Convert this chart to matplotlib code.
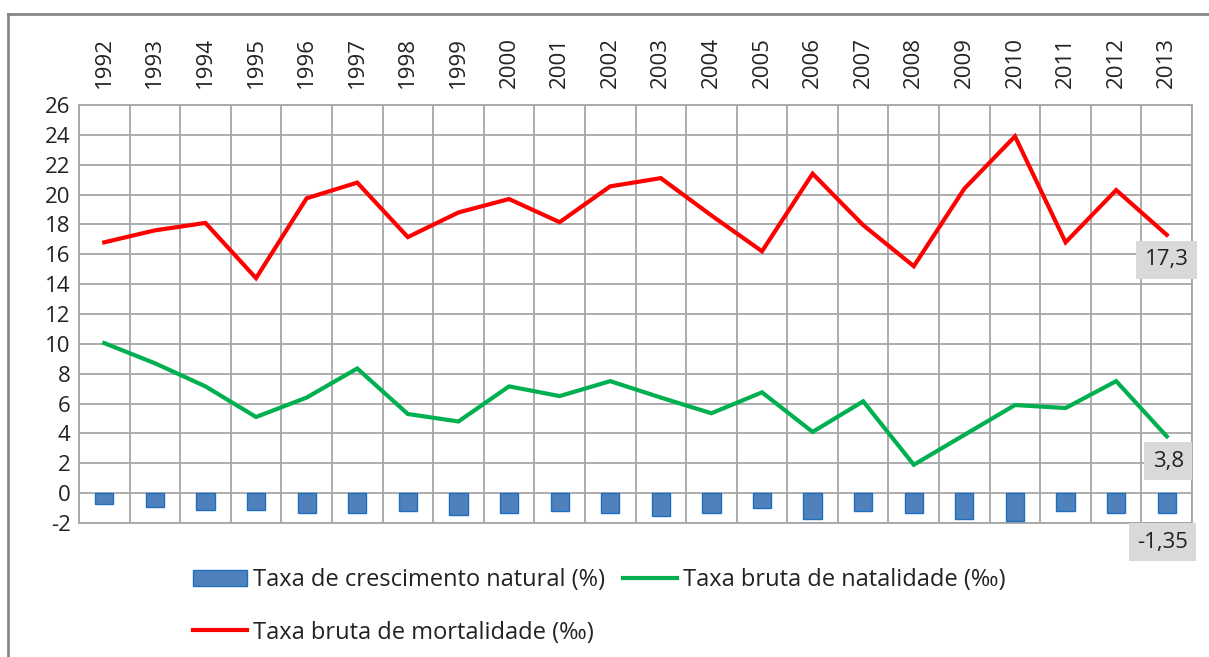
import matplotlib.pyplot as plt
import numpy as np
from matplotlib.lines import Line2D
from matplotlib.patches import Patch

plt.rcParams['font.family'] = ['Open Sans', 'DejaVu Sans']

years = [str(y) for y in range(1992, 2014)]
crescimento = [-0.7, -0.9, -1.1, -1.1, -1.35, -1.3, -1.2, -1.45, -1.3, -1.2, -1.35,
               -1.5, -1.35, -1.0, -1.75, -1.2, -1.35, -1.75, -1.85, -1.2, -1.3, -1.35]
natalidade = [10.05, 8.7, 7.15, 5.1, 6.4, 8.35, 5.3, 4.8, 7.15, 6.5, 7.5,
              6.4, 5.35, 6.75, 4.1, 6.15, 1.9, 3.9, 5.9, 5.7, 7.5, 3.8]
mortalidade = [16.8, 17.6, 18.1, 14.4, 19.75, 20.8, 17.15, 18.8, 19.7, 18.15, 20.55,
               21.1, 18.6, 16.2, 21.4, 17.95, 15.2, 20.4, 23.9, 16.8, 20.3, 17.3]
yticks = list(range(-2, 27, 2))

grid_c = '#A6A6A6'
txt_c = '#222222'
fs = 16
fig = plt.figure(figsize=(12.09, 6.57), dpi=100)
ax = fig.add_axes([0.0653, 0.204, 0.9207, 0.6362])

x = np.arange(len(years))
ax.bar(x, crescimento, width=0.36, color='#4F81BD', edgecolor='#1F6FC0', linewidth=1, zorder=3)
ax.plot(x, natalidade, color='#00B050', lw=3, zorder=4, solid_joinstyle='miter')
ax.plot(x, mortalidade, color='#FF0000', lw=3, zorder=4, solid_joinstyle='miter')

ax.set_xlim(-0.5, len(years) - 0.5)
ax.set_ylim(-2, 26)
ax.set_yticks(yticks)
ax.set_yticklabels([str(t) for t in yticks], fontsize=fs, color=txt_c)
ax.set_xticks(x)
ax.set_xticklabels(years, rotation=90, fontsize=fs, color=txt_c)
ax.xaxis.tick_top()
ax.tick_params(axis='both', length=0)
ax.tick_params(axis='x', pad=12)
ax.tick_params(axis='y', pad=6)
ax.set_xticks(np.arange(-0.5, len(years), 1), minor=True)
ax.tick_params(which='minor', length=0)
ax.grid(True, which='minor', axis='x', color=grid_c, lw=1.3, zorder=0)
ax.grid(True, which='major', axis='y', color=grid_c, lw=1.3, zorder=0)
for s in ax.spines.values():
    s.set_color(grid_c)
    s.set_linewidth(1.3)

# data labels on the last year
box = dict(boxstyle='square,pad=0.38', fc='#D9D9D9', ec='none')
last = len(years) - 1
ax.annotate('17,3', (last, mortalidade[-1]), xytext=(0, -18), textcoords='offset points',
            ha='center', va='center', fontsize=fs, color=txt_c, bbox=box, zorder=6,
            annotation_clip=False)
ax.annotate('3,8', (last, natalidade[-1]), xytext=(1, -18), textcoords='offset points',
            ha='center', va='center', fontsize=fs, color=txt_c, bbox=box, zorder=6,
            annotation_clip=False)
ax.annotate('-1,35', (last, crescimento[-1]), xytext=(-3, -21), textcoords='offset points',
            ha='center', va='center', fontsize=fs, color=txt_c, bbox=box, zorder=6,
            annotation_clip=False)

# legend
h1 = Patch(facecolor='#4F81BD', edgecolor='#1F6FC0')
h2 = Line2D([], [], color='#00B050', lw=3)
h3 = Line2D([], [], color='#FF0000', lw=3)
fig.legend([h1, h3, h2], ['Taxa de crescimento natural (%)', 'Taxa bruta de mortalidade (‰)',
                          'Taxa bruta de natalidade (‰)'],
           ncol=2, loc='upper left', bbox_to_anchor=(0.1596, 0.135), frameon=False,
           fontsize=17, handlelength=2.3, handletextpad=0.25, columnspacing=0.75,
           labelspacing=1.2, borderpad=0, borderaxespad=0, labelcolor=txt_c)

# outer chart border
fig.add_artist(Line2D([8 / 1209, 1], [1 - 14 / 657, 1 - 14 / 657], color='#888888', lw=2,
                      transform=fig.transFigure))
fig.add_artist(Line2D([8 / 1209, 8 / 1209], [0, 1 - 14 / 657], color='#888888', lw=2,
                      transform=fig.transFigure))

fig.savefig('out.png', dpi=100)
